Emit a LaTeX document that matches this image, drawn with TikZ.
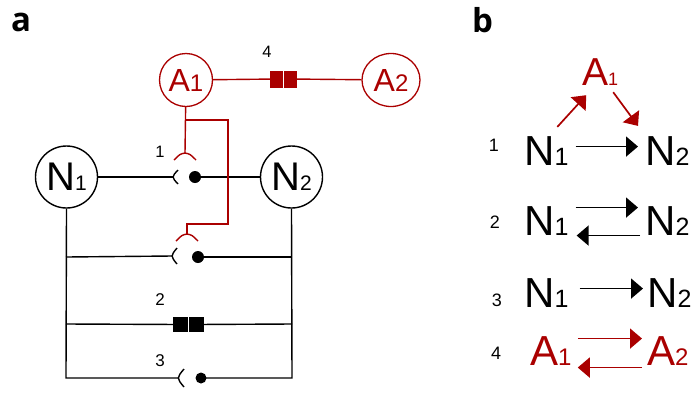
\documentclass[tikz,border=0pt]{standalone}
\usepackage{fontspec}
\setmainfont{Liberation Sans}
\newfontfamily\labfont{Open Sans}
\usetikzlibrary{arrows.meta,shapes.geometric}
\definecolor{dred}{RGB}{170,0,0}
\newcommand\myfs[2]{{\fontsize{#1}{#1}\selectfont #2}}
\tikzset{
  wire/.style={line width=1.4pt},
  rwire/.style={line width=1.4pt,draw=dred},
  neuron/.style={circle,draw,line width=1.4pt,inner sep=0pt,minimum size=62pt},
  aneuron/.style={circle,draw=dred,text=dred,line width=1.3pt,inner sep=0pt,minimum size=53pt},
  gjblk/.style={fill=black,inner sep=0pt,minimum width=15pt,minimum height=15pt},
  gjred/.style={fill=dred,inner sep=0pt,minimum width=13pt,minimum height=17pt},
  num/.style={inner sep=0pt},
  term/.style={inner sep=0pt,anchor=base west},
  arr/.style={line width=1.7pt,-{Triangle[length=12pt,width=20pt]}},
  plab/.style={inner sep=0pt,anchor=base west,font=\labfont\bfseries\fontsize{33}{33}\selectfont}
}
\begin{document}
\begin{tikzpicture}[x=1pt,y=-1pt]
\useasboundingbox (0,0) rectangle (691,392);
% panel labels
\node[plab] (la) at (11,31) {a};
\node[plab] (lb) at (472,32) {b};

% ---------- panel a ----------
\node[neuron] (N1) at (66.5,177) {\myfs{40}{N}\myfs{21}{1}};
\node[neuron] (N2) at (291.5,177) {\myfs{40}{N}\myfs{21}{2}};
\node[aneuron] (A1) at (186,80) {\myfs{32}{A}\myfs{24}{1}};
\node[aneuron,ellipse,minimum width=58pt,minimum height=53pt] (A2) at (391,80) {\myfs{32}{A}\myfs{24}{2}};

% red gap junction 4
\node[gjred] (g4a) at (276.5,79) {};
\node[gjred] (g4b) at (290.5,79) {};
\draw[rwire] (A1) -- (g4a);
\draw[rwire] (g4b) -- (A2);
\node[num] (t4) at (267,52) {\myfs{16.5}{4}};

% synapse 1 (row y=177)
\coordinate (s1p) at (173,177);
\coordinate (s1d) at (195,177);
\coordinate (c1) at (185,153);
\draw[wire] (N1) -- (s1p);
\draw[wire] ([shift={(5,-7)}]s1p) .. controls ([shift={(-1.5,0)}]s1p) .. ([shift={(5,7)}]s1p);
\fill (s1d) circle (6pt);
\draw[wire] (s1d) -- (N2);
\node[num] (t1) at (160,152) {\myfs{16.5}{1}};

% red pathway
\coordinate (rb) at (185,120);
\coordinate (rc) at (228,120);
\coordinate (rd) at (228,224);
\coordinate (re) at (187,224);
\coordinate (c2) at (187,234);
\draw[rwire] (A1) -- (c1);
\draw[rwire] (rb) -- (rc) -- (rd) -- (re) -- (c2);
\draw[rwire] (c1) .. controls ([shift={(-5,1)}]c1) .. ([shift={(-11,7)}]c1);
\draw[rwire] (c1) .. controls ([shift={(5,1)}]c1) .. ([shift={(11,7)}]c1);
\draw[rwire] (c2) .. controls ([shift={(-5,1)}]c2) .. ([shift={(-11,7)}]c2);
\draw[rwire] (c2) .. controls ([shift={(5,1)}]c2) .. ([shift={(11,7)}]c2);

% vertical rails
\coordinate (bl) at (66,378);
\coordinate (br) at (292,378);
\coordinate (l2) at (66,257);
\coordinate (r2) at (292,257);
\coordinate (l3) at (66,324);
\coordinate (r3) at (292,324);

% synapse row 2 (y=257)
\coordinate (s2p) at (172,256);
\coordinate (s2d) at (198,257);
\draw[wire] (l2) -- (s2p);
\draw[wire] ([shift={(5,-8)}]s2p) .. controls ([shift={(-1.5,0)}]s2p) .. ([shift={(5,8)}]s2p);
\fill (s2d) circle (6pt);
\draw[wire] (s2d) -- (r2);

% gap junction 2 (y=324)
\node[gjblk] (g2a) at (180.5,324.5) {};
\node[gjblk] (g2b) at (196,324.5) {};
\draw[wire] (l3) -- (g2a);
\draw[wire] (g2b) -- (r3);
\node[num] (t2) at (160,300) {\myfs{17}{2}};

% synapse row 3 (y=378)
\coordinate (s3p) at (178,378);
\coordinate (s3d) at (201,378);
\draw[wire] (N1.south) -- (bl) -- (s3p);
\draw[wire] ([shift={(6,-9)}]s3p) .. controls ([shift={(-1.5,0)}]s3p) .. ([shift={(6,9)}]s3p);
\fill (s3d) circle (5.5pt);
\draw[wire] (s3d) -- (br) -- (N2.south);
\node[num] (t3) at (160,361) {\myfs{17}{3}};

% ---------- panel b ----------
\node[term,text=dred] (bA) at (582,85) {\myfs{39}{A}\myfs{18}{1}};
\node[term] (b1a) at (524,165) {\myfs{42}{N}\myfs{25}{1}};
\node[term] (b1b) at (645,165) {\myfs{42}{N}\myfs{25}{2}};
\node[term] (b2a) at (524,235) {\myfs{42}{N}\myfs{25}{1}};
\node[term] (b2b) at (645,235) {\myfs{42}{N}\myfs{25}{2}};
\node[term] (b3a) at (524,307) {\myfs{42}{N}\myfs{25}{1}};
\node[term] (b3b) at (647,307) {\myfs{42}{N}\myfs{25}{2}};
\node[term,text=dred] (b4a) at (530,365) {\myfs{42}{A}\myfs{24}{1}};
\node[term,text=dred] (b4b) at (647,365) {\myfs{42}{A}\myfs{24}{2}};

\node[num] (n1) at (494,145) {\myfs{18}{1}};
\node[num] (n2) at (495,222) {\myfs{18}{2}};
\node[num] (n3) at (497,300) {\myfs{18}{3}};
\node[num] (n4) at (496,353) {\myfs{18}{4}};

\draw[arr] ([shift={(7,-4)}]b1a.east) -- ([shift={(-7,-4)}]b1b.west);
\draw[arr,dred] ([shift={(11,-9)}]b1a.north) -- ([shift={(-14,10)}]bA.south);
\draw[arr,dred] ([shift={(13,7)}]bA.south) -- ([shift={(-7,-10)}]b1b.north west);

\draw[arr] ([shift={(7,-13)}]b2a.east) -- ([shift={(-7,-13)}]b2b.west);
\draw[arr] ([shift={(-5,15)}]b2b.west) -- ([shift={(8,15)}]b2a.east);

\draw[arr] ([shift={(11,-4)}]b3a.east) -- ([shift={(-4,-4)}]b3b.west);

\draw[arr,dred] ([shift={(6,-12)}]b4a.east) -- ([shift={(-5,-12)}]b4b.west);
\draw[arr,dred] ([shift={(-5,17)}]b4b.west) -- ([shift={(6,17)}]b4a.east);
\end{tikzpicture}
\end{document}
